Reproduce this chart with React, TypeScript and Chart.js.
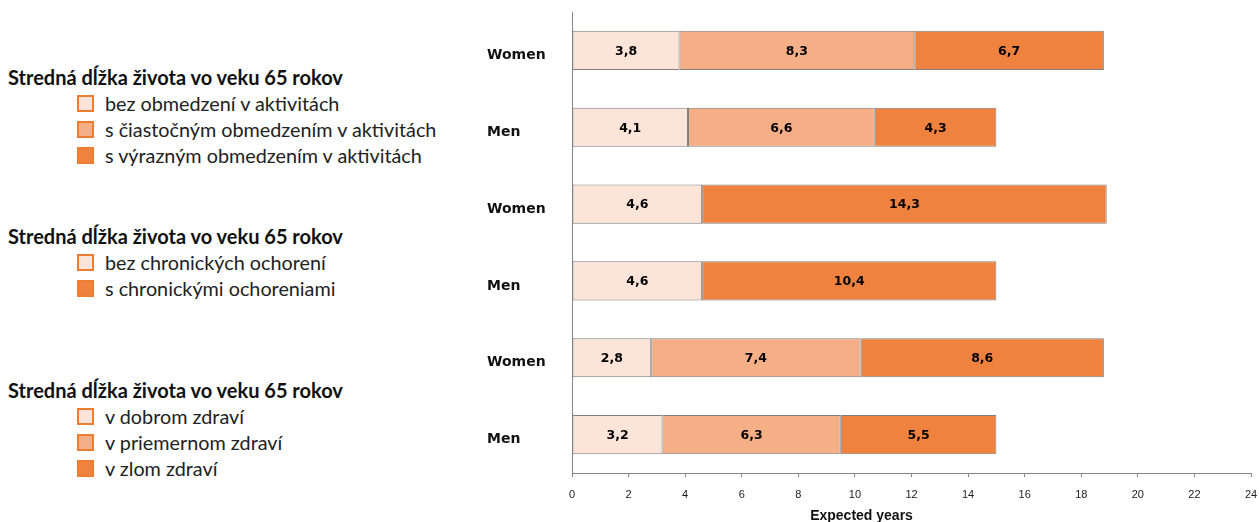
import React, { useEffect, useRef } from "react";
import { Chart, registerables } from "chart.js";

Chart.register(...registerables);

const categories = ["Women", "Men", "Women", "Men", "Women", "Men"];
const seriesLight = [3.8, 4.1, 4.6, 4.6, 2.8, 3.2];
const seriesMid: (number | null)[] = [8.3, 6.6, null, null, 7.4, 6.3];
const seriesDark = [6.7, 4.3, 14.3, 10.4, 8.6, 5.5];
const xTicksMax = 24;
const xTitle = "Expected years";

const legendTitle = "Stredná dĺžka života vo veku 65 rokov";
const legendGroup1 = ["bez obmedzení v aktivitách", "s čiastočným obmedzením v aktivitách", "s výrazným obmedzením v aktivitách"];
const legendGroup2 = ["bez chronických ochorení", "s chronickými ochoreniami"];
const legendGroup3 = ["v dobrom zdraví", "v priemernom zdraví", "v zlom zdraví"];

const LIGHT = "#FCE4D8";
const MID = "#F5AF87";
const DARK = "#F0823F";
const EDGE = "#ED7D31";

const valueLabels = {
  id: "valueLabels",
  afterDatasetsDraw(chart: any) {
    const ctx = chart.ctx;
    ctx.save();
    ctx.font = "bold 12.5px 'DejaVu Sans', Verdana, sans-serif";
    ctx.fillStyle = "#000";
    ctx.textAlign = "center";
    ctx.textBaseline = "middle";
    chart.data.datasets.forEach((ds: any, di: number) => {
      const meta = chart.getDatasetMeta(di);
      meta.data.forEach((bar: any, i: number) => {
        const v = ds.data[i];
        if (v === null || v === undefined) return;
        const cx = (bar.x + bar.base) / 2;
        ctx.fillText(String(v.toFixed(1)).replace(".", ","), cx, bar.y + 1);
      });
    });
    ctx.restore();
  },
};

const axisTitle = {
  id: "axisTitle",
  afterDraw(chart: any) {
    const ctx = chart.ctx;
    const a = chart.chartArea;
    ctx.save();
    ctx.font = "bold 14px 'Liberation Sans', Arial, sans-serif";
    ctx.fillStyle = "#111";
    ctx.textAlign = "center";
    ctx.textBaseline = "middle";
    ctx.fillText(xTitle, (a.left + a.right) / 2 - 50, a.bottom + 43);
    ctx.restore();
  },
};

function LegendBlock({ top, items, colors }: { top: number; items: string[]; colors: string[] }) {
  return (
    <>
      <div
        style={{
          position: "absolute",
          left: 8,
          top: top - 12,
          height: 24,
          lineHeight: "24px",
          fontFamily: "Lato, 'Open Sans', sans-serif",
          fontWeight: 700,
          fontSize: 20,
          color: "#111",
          whiteSpace: "nowrap",
        }}
      >
        {legendTitle}
      </div>
      {items.map((t, i) => (
        <div
          key={i}
          style={{ position: "absolute", left: 77, top: top + 26 * (i + 1) - 12, height: 24, display: "flex", alignItems: "center" }}
        >
          <div
            style={{
              width: 13,
              height: 13,
              background: colors[i],
              border: `2px solid ${EDGE}`,
            }}
          />
          <div
            style={{
              marginLeft: 11,
              fontFamily: "Lato, 'Open Sans', sans-serif",
              fontSize: 19.8,
              color: "#222",
              whiteSpace: "nowrap",
              lineHeight: "24px",
            }}
          >
            {t}
          </div>
        </div>
      ))}
    </>
  );
}

export default function App() {
  const ref = useRef<HTMLCanvasElement | null>(null);

  useEffect(() => {
    if (!ref.current) return;
    const chart = new Chart(ref.current, {
      type: "bar",
      data: {
        labels: categories,
        datasets: [
          { label: "light", data: seriesLight, backgroundColor: LIGHT, borderColor: "#7F7F7F", borderWidth: 1, borderSkipped: false },
          { label: "mid", data: seriesMid, backgroundColor: MID, borderColor: "#7F7F7F", borderWidth: 1, borderSkipped: false },
          { label: "dark", data: seriesDark, backgroundColor: DARK, borderColor: "#7F7F7F", borderWidth: 1, borderSkipped: false },
        ],
      },
      options: {
        indexAxis: "y",
        animation: false,
        responsive: false,
        maintainAspectRatio: false,
        layout: { autoPadding: false, padding: { left: 17, right: 8, top: 12, bottom: 0 } },
        datasets: { bar: { barPercentage: 0.51, categoryPercentage: 1 } },
        plugins: { legend: { display: false }, tooltip: { enabled: false } },
        scales: {
          x: {
            stacked: true,
            min: 0,
            max: xTicksMax,
            ticks: { stepSize: 2, color: "#222", font: { family: "'Liberation Sans', Arial, sans-serif", size: 11 }, padding: 11 },
            grid: { drawOnChartArea: false, drawTicks: true, tickLength: 4, color: "#868686" },
            border: { display: true, color: "#868686" },
            afterFit: (s: any) => {
              s.height = 49;
              s.paddingLeft = 0;
              s.paddingRight = 0;
            },
          },
          y: {
            stacked: true,
            ticks: {
              color: "#111",
              crossAlign: "far",
              labelOffset: 5,
              font: { family: "'DejaVu Sans', Verdana, sans-serif", size: 14, weight: "bold" },
            },
            grid: { display: false },
            border: { display: true, color: "#868686" },
            afterFit: (s: any) => {
              s.width = 85;
              s.paddingTop = 0;
              s.paddingBottom = 0;
            },
          },
        },
      },
      plugins: [valueLabels, axisTitle],
    } as any);
    return () => chart.destroy();
  }, []);

  return (
    <div style={{ position: "fixed", left: 0, top: 0, width: 1259, height: 522, background: "#fff", overflow: "hidden" }}>
      <LegendBlock top={77} items={legendGroup1} colors={[LIGHT, MID, DARK]} />
      <LegendBlock top={236} items={legendGroup2} colors={[LIGHT, DARK]} />
      <LegendBlock top={390} items={legendGroup3} colors={[LIGHT, MID, DARK]} />
      <canvas ref={ref} width={789} height={522} style={{ position: "absolute", left: 470, top: 0, width: 789, height: 522 }} />
    </div>
  );
}
